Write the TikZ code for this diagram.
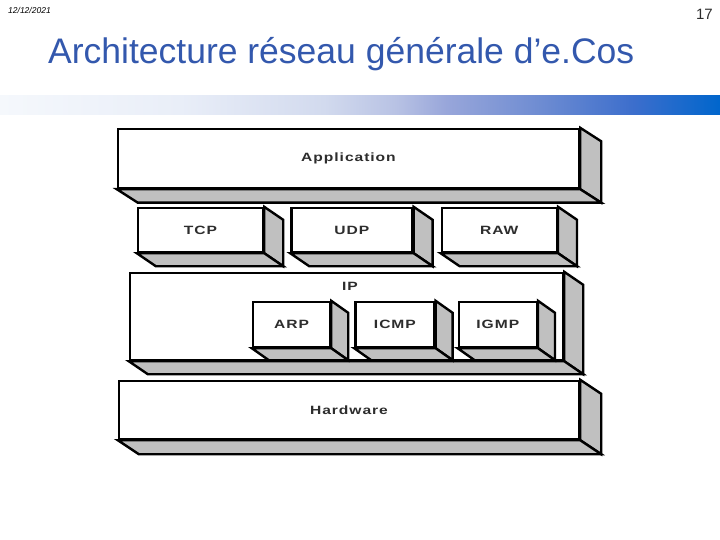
\documentclass[tikz,border=0pt]{standalone}
\usepackage{fontspec}
\setmainfont{Liberation Sans}
\usetikzlibrary{positioning}

\definecolor{titleblue}{RGB}{51,88,173}
\definecolor{facegray}{RGB}{192,192,192}
\definecolor{labelgray}{RGB}{45,45,45}
\definecolor{bandA}{RGB}{245,248,252}
\definecolor{bandB}{RGB}{233,238,248}
\definecolor{bandC}{RGB}{210,218,238}
\definecolor{bandD}{RGB}{184,194,228}
\definecolor{bandE}{RGB}{152,166,218}
\definecolor{bandF}{RGB}{110,140,210}
\definecolor{bandG}{RGB}{60,110,204}
\definecolor{bandH}{RGB}{0,102,204}

% the path is mapped onto 25bp--75bp
\pgfdeclarehorizontalshading{bandshade}{100bp}{color(0bp)=(bandA); color(25bp)=(bandA);
  color(37.5bp)=(bandB); color(47.5bp)=(bandC); color(52.5bp)=(bandD); color(56bp)=(bandE);
  color(62.5bp)=(bandF); color(69bp)=(bandG); color(75bp)=(bandH); color(100bp)=(bandH)}

\newcommand{\boxfont}{\fontsize{12}{14}\selectfont\bfseries\addfontfeatures{FakeStretch=1.3,LetterSpace=8}}

% grey right and bottom faces of a slab
\newcommand{\slabfaces}[3]{%
  \filldraw[slabedge] (#1.north east) -- ++(#2,#3) -- ([shift={(#2,#3)}]#1.south east) -- (#1.south east) -- cycle;
  \filldraw[slabedge] (#1.south west) -- (#1.south east) -- ++(#2,#3) -- ([shift={(#2,#3)}]#1.south west) -- cycle;}

\tikzset{
  slab/.style={draw, fill=white, line width=2.4pt, inner sep=0pt, font=\boxfont, text=labelgray},
  slabedge/.style={fill=facegray, draw=black, line width=2.4pt}
}

\begin{document}
\begin{tikzpicture}[x=1pt,y=-1pt]
 \useasboundingbox (0,0) rectangle (720,540);

 % header
 \node[anchor=base west, inner sep=0pt, font=\fontsize{8.5}{10}\selectfont\itshape] (date) at (8,14) {12/12/2021};
 \node[anchor=base east, inner sep=0pt, font=\fontsize{15}{17}\selectfont, text=labelgray] (page) at (713,20) {17};
 \node[anchor=base west, inner sep=0pt, font=\fontsize{35.5}{40}\selectfont, text=titleblue] (title) at (48,64)
   {Architecture réseau générale d’e.Cos};
 \shade[shading=bandshade] (0,96) rectangle (720,115);

 % layers
 \node[slab, minimum width=461, minimum height=59] (app) at (348.5,158.5) {Application};
 \slabfaces{app}{21}{13.5}

 \node[slab, minimum width=125, minimum height=44] (tcp) at (200.5,230) {TCP};
 \node[slab, minimum width=121, minimum height=44, right=26pt of tcp] (udp) {UDP};
 \node[slab, minimum width=115, minimum height=44, right=27pt of udp] (raw) {RAW};
 \slabfaces{tcp}{19}{13}
 \slabfaces{udp}{19}{13}
 \slabfaces{raw}{19}{13}

 \node[slab, minimum width=433, minimum height=87] (ip) at (346.5,316.5) {};
 \slabfaces{ip}{19}{13}
 \node[font=\boxfont, text=labelgray] (iplabel) at (350,286) {IP};

 \node[slab, minimum width=77, minimum height=45] (arp) at (291.5,324.5) {ARP};
 \node[slab, minimum width=79, minimum height=45, right=23pt of arp] (icmp) {ICMP};
 \node[slab, minimum width=78, minimum height=45, right=22pt of icmp] (igmp) {IGMP};
 \slabfaces{arp}{17}{12}
 \slabfaces{icmp}{17}{12}
 \slabfaces{igmp}{17}{12}

 \node[slab, minimum width=460, minimum height=58] (hw) at (349,410) {Hardware};
 \slabfaces{hw}{21}{14}
\end{tikzpicture}
\end{document}
